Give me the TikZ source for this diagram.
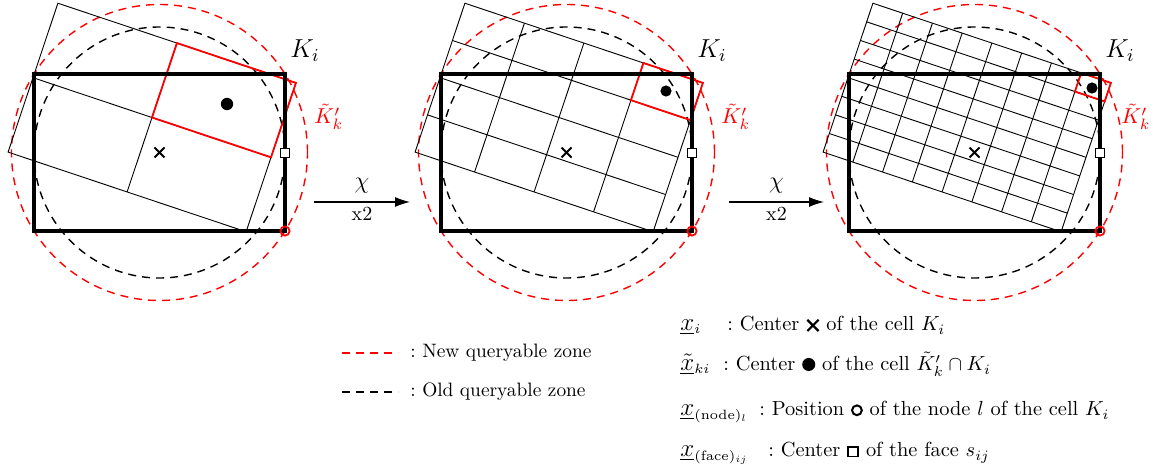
\RequirePackage{fix-cm}
\documentclass[tikz,border=0pt]{standalone}
\usetikzlibrary{arrows.meta}
\newcommand\symcross{\tikz[baseline=0pt]\draw[line width=1.1pt] (0,0) -- (0.55em,0.55em) (0,0.55em) -- (0.55em,0);}
\newcommand\symdot{\tikz[baseline=0pt]\fill (0.32em,0.32em) circle (0.32em);}
\newcommand\symcirc{\tikz[baseline=0pt]\draw[line width=1pt] (0.3em,0.28em) circle (0.24em);}
\newcommand\symsq{\tikz[baseline=0pt]\draw[line width=0.9pt] (0,0.02em) rectangle (0.5em,0.5em);}
\newcommand\bigx[1]{{\fontsize{12.5}{14}\selectfont$\underline{#1}$}}
\newcommand\subx[1]{{\fontsize{9.6}{11}\selectfont${}_{#1}$}}
\begin{document}
\begin{tikzpicture}[x=0.5pt,y=-0.5pt,
  cellrect/.style={line width=2pt},
  gridline/.style={line width=0.45pt},
  redcell/.style={red, line width=0.9pt},
  newzone/.style={red, line width=0.7pt, dash pattern=on 4pt off 3pt},
  oldzone/.style={black, line width=0.7pt, dash pattern=on 4pt off 3pt},
  mapArrow/.style={line width=0.6pt, -{Latex[length=7.5pt,width=5pt]}},
  legtext/.style={anchor=base west, inner sep=0pt, font=\fontsize{9.7}{11.5}\selectfont},
  legtextR/.style={anchor=base west, inner sep=0pt, font=\fontsize{10.2}{12}\selectfont}]
\useasboundingbox (0,0) rectangle (1153,470);

\foreach \dx/\n/\px/\py/\r/\lx [count=\k] in {0/2/227/104/3.1pt/314, 407/4/259/91/2.8pt/314, 815/8/277/88/2.8pt/306}{
  \begin{scope}[shift={(\dx,0)}]
    \coordinate (C\k) at (159.5,152.5);
    \draw[oldzone] (C\k) circle (62.75pt);
    \draw[newzone] (C\k) circle (74pt);
    \begin{scope}[shift={(152,117.5)}, rotate=-18.5]
      \pgfmathtruncatemacro\m{\n-1}
      \draw[gridline] (-125.5,-78.5) rectangle (125.5,78.5);
      \foreach \i in {1,...,\m}{
        \draw[gridline] ({-125.5+\i*251/\n},-78.5) -- ({-125.5+\i*251/\n},78.5);
        \draw[gridline] (-125.5,{-78.5+\i*157/\n}) -- (125.5,{-78.5+\i*157/\n});
      }
      \draw[redcell] ({125.5-251/\n},-78.5) rectangle (125.5,{-78.5+157/\n});
    \end{scope}
    \draw[cellrect] (34,74) rectangle (285,231);
    \draw[line width=1pt] (154.5,147.5) -- (164.5,157.5) (154.5,157.5) -- (164.5,147.5);
    \fill (\px,\py) circle (\r);
    \draw[line width=0.8pt, fill=white] (280.5,148.5) rectangle (289.5,157.5);
    \draw[red, line width=0.9pt] (285,231) circle (2.3pt);
    \node[anchor=base west, inner sep=0pt, font=\fontsize{13}{15}\selectfont] (Ki\k) at (290,58) {$K_i$};
    \node[anchor=base west, inner sep=0pt, red, font=\fontsize{10.8}{13}\selectfont] (Kt\k) at (\lx,124) {$\tilde{K}'_k$};
  \end{scope}
}

% arrows
\coordinate (a1s) at (314,202); \coordinate (a1e) at (410,202);
\coordinate (a2s) at (729,202); \coordinate (a2e) at (824,202);
\draw[mapArrow] (a1s) -- node[above=1pt, font=\large] (chi1) {$\chi$} node[below=-1pt] (xx1) {x2} (a1e);
\draw[mapArrow] (a2s) -- node[above=1pt, font=\large] (chi2) {$\chi$} node[below=-1pt] (xx2) {x2} (a2e);

% legend left
\coordinate (l1a) at (342,353); \coordinate (l1b) at (398,353);
\coordinate (l2a) at (342,392); \coordinate (l2b) at (398,392);
\draw[newzone] (l1a) -- (l1b);
\draw[oldzone] (l2a) -- (l2b);
\node[legtext] (l1t) at (410,358) {:\ New queryable zone};
\node[legtext] (l2t) at (410,397) {:\ Old queryable zone};

% legend right
\node[legtextR] (r1a) at (680,331) {\bigx{x}\subx{i}};
\node[legtextR] (r1b) at (727,331) {:\ Center \symcross\ of the cell $K_i$};
\node[legtextR] (r2a) at (680,371) {\bigx{\tilde{x}}\subx{ki}};
\node[legtextR] (r2b) at (723,371) {:\ Center \symdot\ of the cell $\tilde{K}'_k\cap K_i$};
\node[legtextR] (r3a) at (680,416) {\bigx{x}\subx{(\mathrm{node})_l}};
\node[legtextR] (r3b) at (759,416) {:\ Position \symcirc\ of the node $l$ of the cell $K_i$};
\node[legtextR] (r4a) at (680,457) {\bigx{x}\subx{(\mathrm{face})_{ij}}};
\node[legtextR] (r4b) at (768,457) {:\ Center \symsq\ of the face $s_{ij}$};
\end{tikzpicture}
\end{document}
